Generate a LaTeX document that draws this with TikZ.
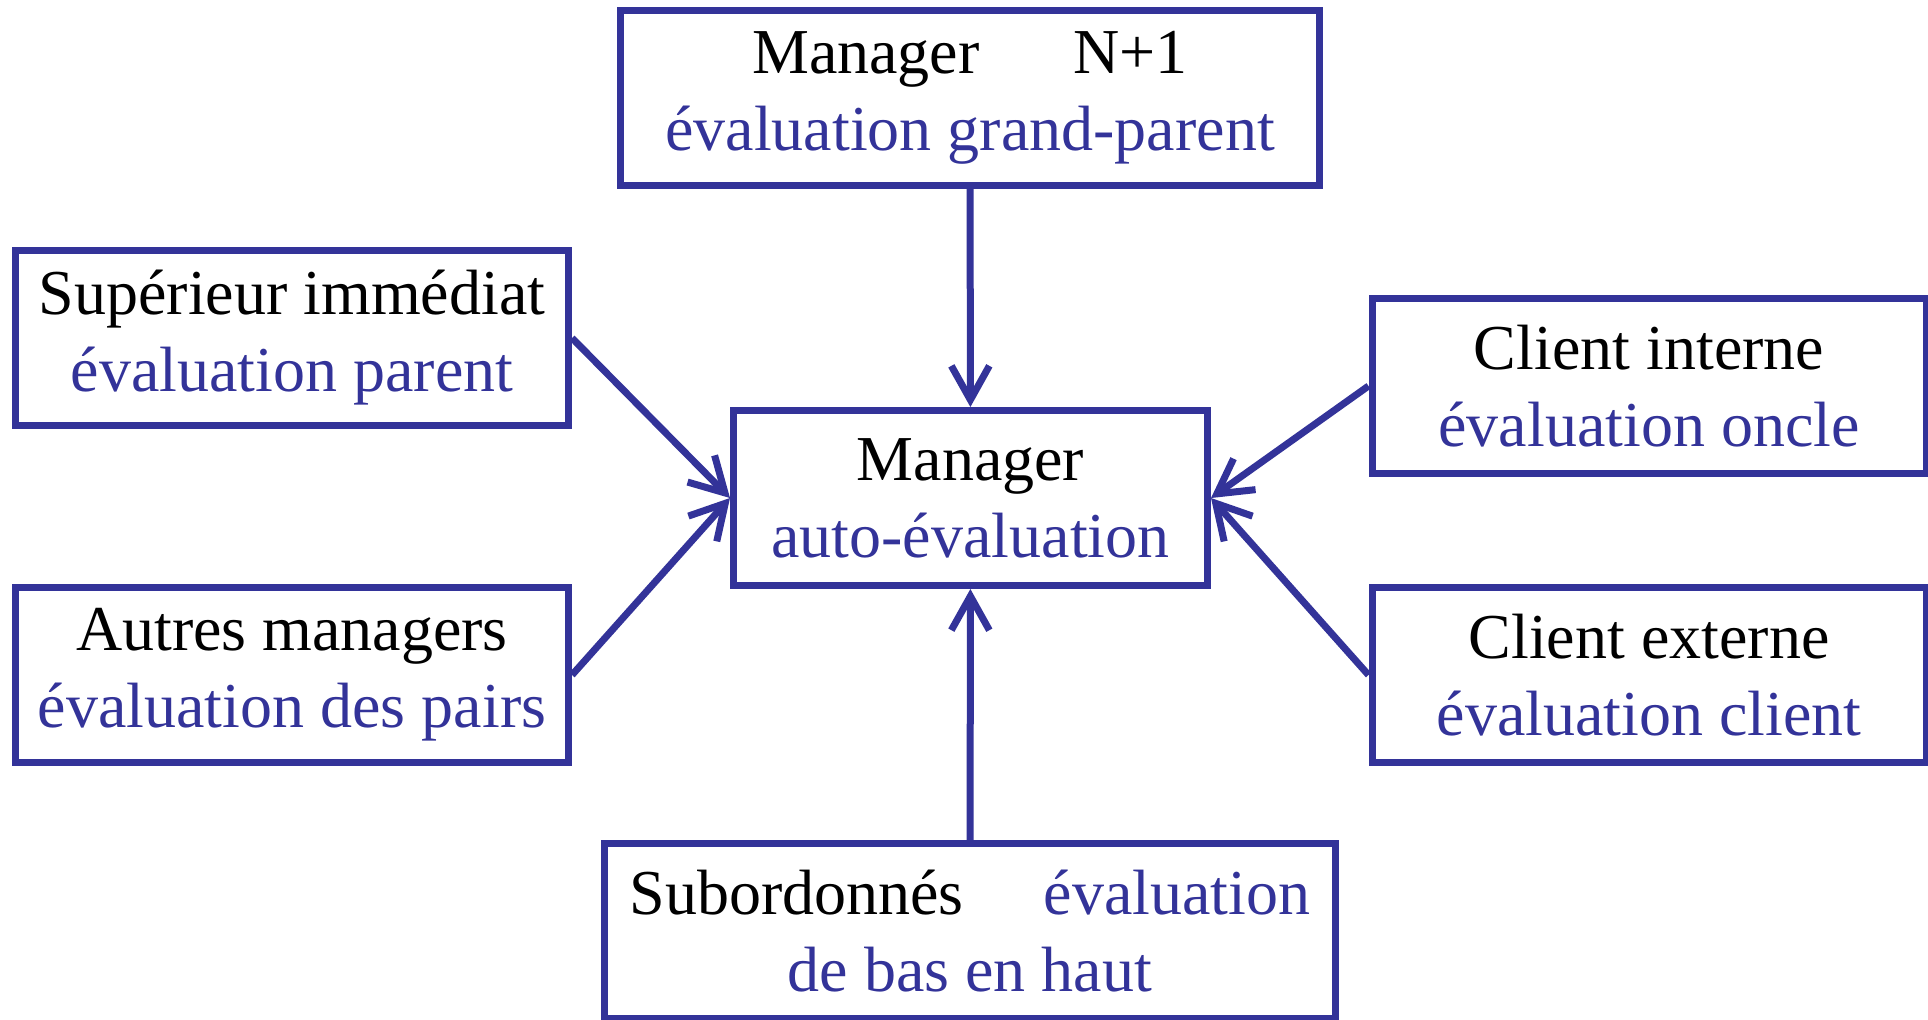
\documentclass[tikz,border=0pt]{standalone}
\usepackage{fontspec}
\setmainfont{Liberation Serif}
\usetikzlibrary{arrows.meta}
\definecolor{evblue}{RGB}{51,51,153}
\newcommand{\ev}[1]{\textcolor{evblue}{#1}}
\tikzset{
evbox/.style={rectangle, draw=evblue, line width=3.5pt, align=center, inner sep=0pt, minimum height=87.5pt, font=\fontsize{32}{38.5}\selectfont},
evarrow/.style={draw=evblue, line width=3.5pt, -{Straight Barb[length=17pt,width=19pt]}}
}
\begin{document}
\begin{tikzpicture}[x=0.5pt,y=-0.5pt]
\useasboundingbox (0,0) rectangle (1928,1019);
\node[evbox, minimum width=349.5pt] (ev0) at (970,98){Manager\hspace{47pt}N+1\\\ev{évaluation grand-parent}};
\node[evbox, minimum width=237pt] (ev1) at (970.5,498){Manager\\\ev{auto-évaluation}};
\node[evbox, minimum width=276.5pt] (ev2) at (292,338){Supérieur immédiat\\\ev{évaluation parent}};
\node[evbox, minimum width=276.5pt] (ev3) at (292,675){Autres managers\\\ev{évaluation des pairs}};
\node[evbox, minimum width=277pt] (ev4) at (1649,386){Client interne\\\ev{évaluation oncle}};
\node[evbox, minimum width=277pt] (ev5) at (1649,675){Client externe\\\ev{évaluation client}};
\node[evbox, minimum width=365.5pt] (ev6) at (970,931){Subordonnés\hspace{40pt}\ev{évaluation}\\\ev{de bas en haut}};
\draw[evarrow](ev0) -- (ev1);
\draw[evarrow](ev6) -- (ev1);
\draw[evarrow](ev2.east) -- (ev1.west);
\draw[evarrow](ev3.east) -- (ev1.west);
\draw[evarrow](ev4.west) -- (ev1.east);
\draw[evarrow](ev5.west) -- (ev1.east);
\end{tikzpicture}
\end{document}
